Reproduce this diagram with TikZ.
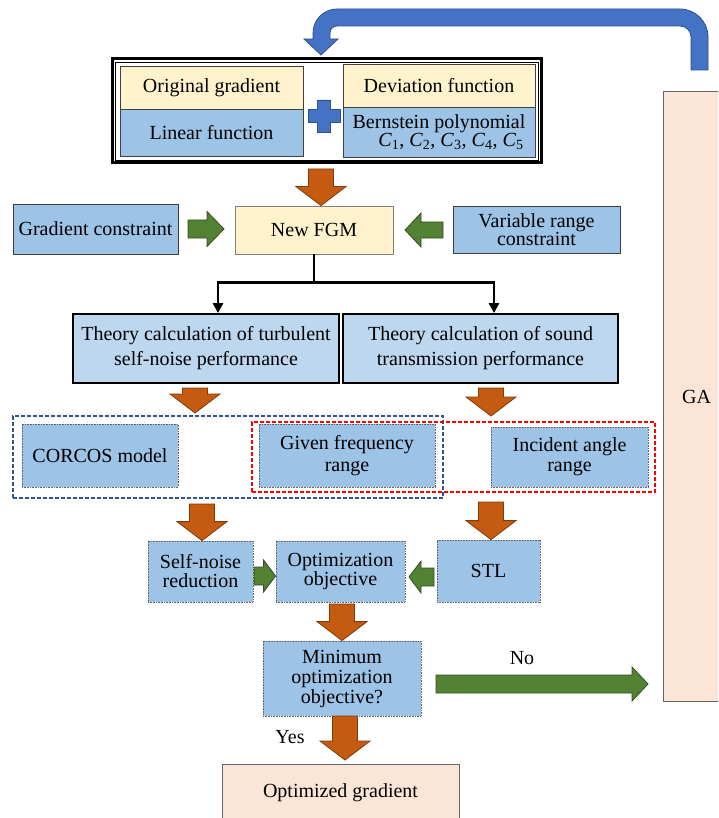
\documentclass[tikz,border=0pt]{standalone}
\usepackage{fontspec}
\setmainfont{Liberation Serif}
\usetikzlibrary{calc,arrows.meta}

\definecolor{fgmyellow}{HTML}{FFF2CC}
\definecolor{boxblue}{HTML}{9DC3E6}
\definecolor{theoryblue}{HTML}{BDD7EE}
\definecolor{peach}{HTML}{FBE5D6}
\definecolor{arrorange}{HTML}{C55A11}
\definecolor{arrgreen}{HTML}{548235}
\definecolor{arrblue}{HTML}{4472C4}
\definecolor{groupblue}{HTML}{2F5597}

\tikzset{
	every node/.style={font=\fontsize{20}{20}\selectfont},
	yellowbox/.style={draw=black!75, line width=0.8pt, fill=fgmyellow, inner sep=0pt, align=center},
	bluebox/.style={draw=black!75, line width=0.8pt, fill=boxblue, inner sep=0pt, align=center},
	theorybox/.style={draw=black, line width=1.8pt, fill=theoryblue, inner sep=0pt, align=center},
	dotbox/.style={draw=black!60, line width=0.8pt, dash pattern=on 0.8pt off 0.8pt, fill=boxblue, inner sep=0pt, align=center},
	peachbox/.style={draw=black!60, line width=1pt, fill=peach, inner sep=0pt, align=center},
	groupbox/.style={draw=#1, line width=1.3pt, dash pattern=on 4pt off 2pt, inner sep=0pt},
	orangearr/.style={fill=arrorange, draw=arrorange!65!black, line width=0.8pt},
	greenarr/.style={fill=arrgreen, draw=arrgreen!60!black, line width=0.8pt},
	bluearr/.style={fill=arrblue, draw=arrblue!70!black, line width=0.8pt},
	flowline/.style={draw=black, line width=2.6pt},
	flowarrow/.style={flowline, -{Triangle[length=10pt,width=10pt]}}
}

% block arrow: [style]{shaft half width}{head half width}{head length}{start}{tip}
\newcommand{\blockarrow}[6][]{%
	\path ($(#6)!#4!(#5)$) coordinate (hb);
	\draw[#1] ($(#5)!#2!90:(#6)$) -- ($(hb)!#2!90:(#6)$) -- ($(hb)!#3!90:(#6)$) -- (#6)
		-- ($(hb)!#3!-90:(#6)$) -- ($(hb)!#2!-90:(#6)$) -- ($(#5)!#2!-90:(#6)$) -- cycle;
}
\newcommand{\orangearrow}[2]{\blockarrow[orangearr]{12.5pt}{25pt}{19pt}{#1}{#2}}

\begin{document}
\begin{tikzpicture}[x=1pt,y=-1pt]
	\useasboundingbox (0,0) rectangle (718,818);
	\clip (0,0) rectangle (718,818);
	
	\node[draw, line width=3pt, minimum width=429, minimum height=104] (frame) at (326.5,111) {};
	\draw[line width=0.8pt] ([shift={(4.5pt,4.5pt)}]frame.south west) rectangle ([shift={(-4.5pt,-4.5pt)}]frame.north east);
	\node[yellowbox, minimum width=183, minimum height=43] (origgrad) at (211.5,87.5) {Original gradient};
	\node[bluebox, minimum width=183, minimum height=47] (linfun) at (211.5,132.5) {Linear function};
	\node[yellowbox, minimum width=192, minimum height=43] (devfun) at (439,85.5) {Deviation function};
	\node[bluebox, minimum width=192, minimum height=50, font=\fontsize{20}{17}\selectfont] (bern) at (439,132)
		{Bernstein polynomial\\\hspace*{1.2em}\textit{C}\textsubscript{1}, \textit{C}\textsubscript{2}, \textit{C}\textsubscript{3}, \textit{C}\textsubscript{4}, \textit{C}\textsubscript{5}};
	\draw[bluearr] (317.5,100) -- (330.5,100) -- (330.5,109.5) -- (340,109.5) -- (340,122.5) -- (330.5,122.5)
		-- (330.5,132) -- (317.5,132) -- (317.5,122.5) -- (308,122.5) -- (308,109.5) -- (317.5,109.5) -- cycle;
	
	\node[peachbox, minimum width=67, minimum height=609] (ga) at (696.5,396.5) {GA};
	\draw[bluearr] (708,70) -- (708,37) arc[start angle=0, end angle=-90, radius=28] -- (337,9)
		arc[start angle=-90, end angle=-180, radius=24] -- (313,39) -- (304,39) -- (321,55) -- (338,39) -- (330,39) -- (330,33)
		arc[start angle=180, end angle=270, radius=7] -- (680,26) arc[start angle=-90, end angle=0, radius=11] -- (691,70) -- cycle;
	
	\node[bluebox, minimum width=165, minimum height=50] (gradcon) at (95.5,229) {Gradient constraint};
	\node[yellowbox, draw=black!50, minimum width=158, minimum height=48] (newfgm) at (314,230) {New FGM};
	\node[bluebox, minimum width=167, minimum height=47, font=\fontsize{20}{16}\selectfont] (varrange) at (536.5,229.5) {Variable range\\constraint};
	
	\node[theorybox, minimum width=266, minimum height=69, font=\fontsize{20}{25}\selectfont] (theoryA) at (206,348.5)
		{Theory calculation of turbulent\\self-noise performance};
	\node[theorybox, minimum width=275, minimum height=69, font=\fontsize{20}{25}\selectfont] (theoryB) at (480.5,348.5)
		{Theory calculation of sound\\transmission performance};
	
	\node[dotbox, minimum width=156, minimum height=63] (corcos) at (100,455.5) {CORCOS model};
	\node[dotbox, minimum width=176, minimum height=63, font=\fontsize{20}{22}\selectfont] (givenfreq) at (347,455.5) {Given frequency\\range};
	\node[dotbox, minimum width=157, minimum height=60, font=\fontsize{20}{20}\selectfont] (incident) at (569.5,457) {Incident angle\\range};
	\node[groupbox=groupblue, minimum width=430, minimum height=82] (noisegroup) at (228,457) {};
	\node[groupbox=red, minimum width=403, minimum height=70] (stlgroup) at (453.5,457) {};
	
	\node[dotbox, minimum width=105, minimum height=61, font=\fontsize{20}{19}\selectfont] (selfnoise) at (200.5,571.5) {Self-noise\\reduction};
	\node[dotbox, minimum width=129, minimum height=61, font=\fontsize{20}{19}\selectfont] (optobj) at (340.5,571.5) {Optimization\\objective};
	\node[dotbox, minimum width=103, minimum height=62] (stl) at (488.5,571) {STL};
	\node[dotbox, minimum width=158, minimum height=75] (minobj) at (342,678.5) {Minimum\\optimization\\objective?};
	\node[peachbox, minimum width=237, minimum height=58] (optgrad) at (340.5,793) {Optimized gradient};
	\node (nolabel) at (522,658) {No};
	\node (yeslabel) at (290,737) {Yes};
	
	\coordinate (split) at ([yshift=-28pt]newfgm.south);
	\draw[flowline] (newfgm.south) -- (split);
	\draw[flowarrow] (split) -| ([xshift=12pt]theoryA.north);
	\draw[flowarrow] (split) -| ([xshift=13.5pt]theoryB.north);
	
	\coordinate (o1s) at (321,169);
	\coordinate (o1t) at (o1s |- newfgm.north);
	\coordinate (o2s) at (195,388);
	\coordinate (o2t) at (195,413);
	\coordinate (o3s) at (491,388);
	\coordinate (o3t) at (491,416);
	\coordinate (o4s) at (202,504);
	\coordinate (o4t) at (o4s |- selfnoise.north);
	\coordinate (o5s) at (491,502);
	\coordinate (o5t) at (o5s |- stl.north);
	\coordinate (o6s) at (342,604);
	\coordinate (o6t) at (o6s |- minobj.north);
	\coordinate (o7s) at (345,716);
	\coordinate (o7t) at (345,760);
	\orangearrow{o1s}{o1t}
	\orangearrow{o2s}{o2t}
	\orangearrow{o3s}{o3t}
	\orangearrow{o4s}{o4t}
	\orangearrow{o5s}{o5t}
	\orangearrow{o6s}{o6t}
	\orangearrow{o7s}{o7t}
	
	\coordinate (g1s) at (188,229);
	\coordinate (g1t) at (224,229);
	\coordinate (g2s) at (443,230);
	\coordinate (g2t) at (405,230);
	\coordinate (g3s) at (254,576);
	\coordinate (g3t) at (optobj.west |- g3s);
	\coordinate (g4s) at (434,577);
	\coordinate (g4t) at (409,577);
	\coordinate (g5s) at (436,684);
	\coordinate (g5t) at (648,684);
	\blockarrow[greenarr]{9pt}{17.5pt}{17pt}{g1s}{g1t}
	\blockarrow[greenarr]{8pt}{17pt}{16pt}{g2s}{g2t}
	\blockarrow[greenarr]{9pt}{16pt}{12pt}{g3s}{g3t}
	\blockarrow[greenarr]{9pt}{16pt}{12pt}{g4s}{g4t}
	\blockarrow[greenarr]{9pt}{17pt}{16pt}{g5s}{g5t}
\end{tikzpicture}
\end{document}
